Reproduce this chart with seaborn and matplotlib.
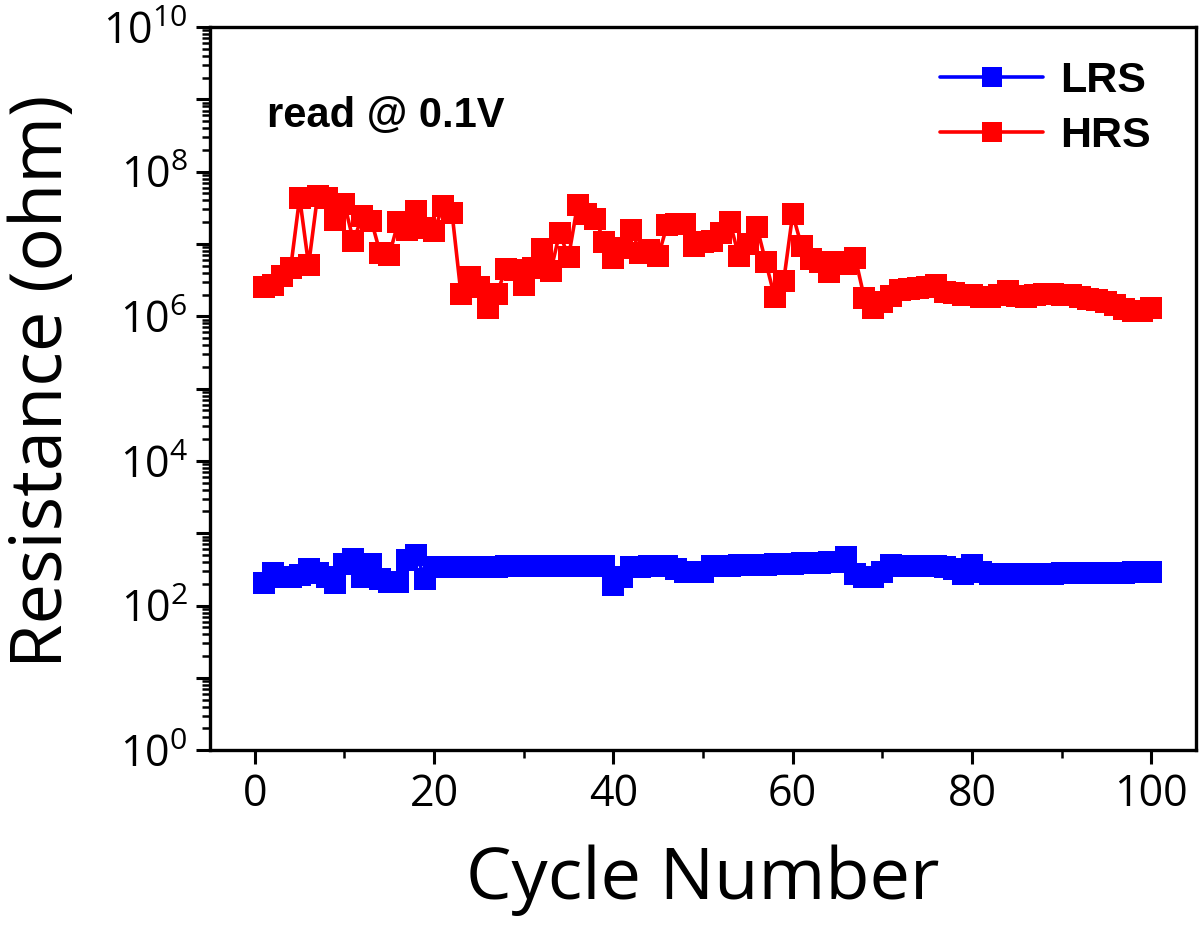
import numpy as np
import pandas as pd
import seaborn as sns
import matplotlib.pyplot as plt
from matplotlib.ticker import LogLocator, FuncFormatter, MultipleLocator, NullFormatter
from matplotlib.lines import Line2D

# --- data (ohm) ---
cycles = list(range(1, 101))

hrs = [2.51e6, 2.69e6, 3.63e6, 4.68e6, 4.37e7, 5.13e6, 4.68e7, 4.37e7, 2.14e7, 3.55e7,
       1.10e7, 2.45e7, 2.09e7, 7.41e6, 7.08e6, 2.00e7, 1.55e7, 2.82e7, 1.66e7, 1.51e7,
       3.39e7, 2.69e7, 2.04e6, 3.47e6, 2.51e6, 1.32e6, 2.04e6, 4.57e6, 4.37e6, 2.69e6,
       4.68e6, 8.51e6, 4.17e6, 1.41e7, 6.61e6, 3.47e7, 2.63e7, 2.24e7, 1.05e7, 6.31e6,
       8.91e6, 1.55e7, 7.59e6, 8.32e6, 6.76e6, 1.82e7, 1.86e7, 1.86e7, 9.33e6, 1.07e7,
       1.10e7, 1.41e7, 2.00e7, 6.76e6, 1.00e7, 1.74e7, 5.62e6, 1.82e6, 3.09e6, 2.57e7,
       9.33e6, 6.17e6, 5.62e6, 4.07e6, 5.62e6, 5.37e6, 6.31e6, 1.78e6, 1.32e6, 1.58e6,
       1.91e6, 2.29e6, 2.40e6, 2.45e6, 2.57e6, 2.69e6, 2.19e6, 2.09e6, 2.00e6, 1.95e6,
       1.86e6, 1.86e6, 1.95e6, 2.24e6, 1.91e6, 1.86e6, 2.00e6, 2.04e6, 2.04e6, 2.00e6,
       1.95e6, 1.82e6, 1.74e6, 1.66e6, 1.58e6, 1.41e6, 1.26e6, 1.17e6, 1.17e6, 1.29e6]

lrs = [204, 282, 251, 251, 263, 316, 282, 251, 204, 380,
       437, 245, 380, 234, 209, 209, 427, 501, 234, 339,
       340, 340, 342, 342, 344, 345, 346, 347, 348, 350,
       350, 352, 352, 352, 354, 355, 355, 352, 350, 195,
       245, 340, 345, 348, 350, 352, 316, 295, 288, 295,
       347, 352, 355, 358, 362, 365, 368, 372, 376, 380,
       383, 386, 390, 398, 398, 468, 269, 251, 245, 295,
       363, 355, 355, 352, 350, 347, 339, 316, 275, 363,
       295, 269, 269, 269, 275, 275, 275, 277, 277, 278,
       280, 280, 282, 282, 284, 285, 286, 288, 288, 290]

df = pd.DataFrame({"cycle": cycles, "LRS": lrs, "HRS": hrs})

sns.set_style("ticks")
plt.rcParams['font.family'] = ['Open Sans', 'DejaVu Sans']
plt.rcParams['mathtext.default'] = 'regular'
plt.rcParams['text.color'] = 'black'
plt.rcParams['axes.labelcolor'] = 'black'
plt.rcParams['xtick.color'] = 'black'
plt.rcParams['ytick.color'] = 'black'

fig = plt.figure(figsize=(12, 9.33), dpi=100)
ax = fig.add_axes([0.175, 0.196, 0.8217, 0.775])

sns.lineplot(data=df, x="cycle", y="LRS", ax=ax, color="#0000ff", marker="s",
             markersize=16.5, markeredgewidth=0, linewidth=2.6)
sns.lineplot(data=df, x="cycle", y="HRS", ax=ax, color="#ff0000", marker="s",
             markersize=16.5, markeredgewidth=0, linewidth=2.6)

ax.set_yscale("log")
ax.set_ylim(1, 1e10)
ax.set_xlim(-5, 105)

ax.xaxis.set_major_locator(MultipleLocator(20))
ax.xaxis.set_minor_locator(MultipleLocator(10))
ax.yaxis.set_major_locator(LogLocator(base=10, numticks=20))
ax.yaxis.set_minor_locator(LogLocator(base=10, subs=np.arange(2, 10), numticks=20))
ax.yaxis.set_minor_formatter(NullFormatter())


def even_decades(v, pos):
    e = int(round(np.log10(v)))
    return r"$10^{%d}$" % e if e % 2 == 0 else ""


ax.yaxis.set_major_formatter(FuncFormatter(even_decades))

for s in ax.spines.values():
    s.set_linewidth(2.4)
    s.set_color("black")
ax.tick_params(axis="both", which="major", direction="out", length=10, width=2.2,
               labelsize=31, pad=6)
ax.tick_params(axis="both", which="minor", direction="out", length=6, width=1.8)

ax.set_xlabel("Cycle Number", fontsize=52)
ax.set_ylabel("Resistance (ohm)", fontsize=52)
ax.xaxis.set_label_coords(0.5, -0.13)
ax.yaxis.set_label_coords(-0.133, 0.51)

ax.text(0.058, 0.862, "read @ 0.1V", transform=ax.transAxes, fontsize=30,
        fontweight="bold", family=["Liberation Sans", "DejaVu Sans"])

handles = [Line2D([], [], color="#0000ff", marker="s", markersize=14, linewidth=2.6,
                  markeredgewidth=0),
           Line2D([], [], color="#ff0000", marker="s", markersize=14, linewidth=2.6,
                  markeredgewidth=0)]
ax.legend(handles, ["LRS", "HRS"], loc="upper right", frameon=False,
          prop={"family": "Liberation Sans", "weight": "bold", "size": 31},
          handlelength=2.4, handletextpad=0.4, labelspacing=0.35,
          borderaxespad=0.3, bbox_to_anchor=(0.985, 0.995))

fig.savefig("out.png", dpi=100)
